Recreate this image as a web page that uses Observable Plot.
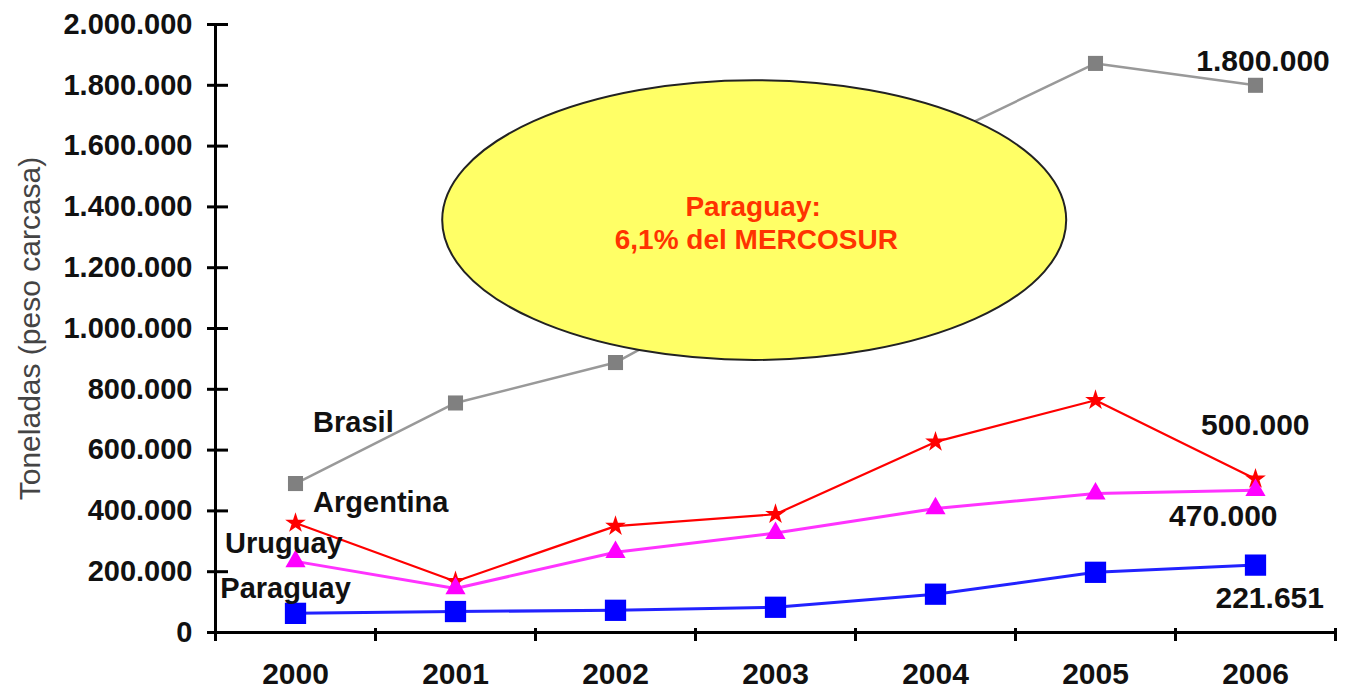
<!DOCTYPE html>
<html>
<head>
<meta charset="utf-8">
<script src="https://cdn.jsdelivr.net/npm/d3@7"></script>
<script src="https://cdn.jsdelivr.net/npm/@observablehq/plot@0.6"></script>
<style>
  html, body { margin: 0; padding: 0; background: #fff; }
</style>
</head>
<body>
<div id="chart"></div>
<script>
// ---- data ----
const years = [2000, 2001, 2002, 2003, 2004, 2005, 2006];
const brasil    = [490000, 755000, 888000, 1175000, 1620000, 1872000, 1800000];
const argentina = [360000, 168000, 350000, 389000, 627000, 764000, 505000];
const uruguay   = [234000, 145000, 264000, 327000, 408000, 457000, 468000];
const paraguay  = [63000, 69000, 73000, 83000, 126000, 198000, 221651];

const yTicks = [0, 200000, 400000, 600000, 800000, 1000000, 1200000, 1400000, 1600000, 1800000, 2000000];
const xBoundaries = [1999.5, 2000.5, 2001.5, 2002.5, 2003.5, 2004.5, 2005.5, 2006.5];

const seriesNames  = ["Brasil", "Argentina", "Uruguay", "Paraguay"];
const seriesLabelX = [2000.11, 2000.11, 1999.56, 1999.53];
const seriesLabelY = [690000, 428000, 293000, 143000];

const valueLabels  = ["1.800.000", "500.000", "470.000", "221.651"];
const valueLabelX  = [2005.63, 2005.66, 2005.46, 2005.75];
const valueLabelY  = [1880000, 681000, 381000, 113000];

const calloutLines = ["Paraguay:", "6,1% del MERCOSUR"];
const calloutX = [2002.86, 2002.88];
const calloutY = [1400000, 1290000];
// callout ellipse in data units: center (year, value), radius (years, value)
const ellipseCenter = [2002.87, 1355000];
const ellipseRadius = [1.95, 460000];

const yTitle = "Toneladas (peso carcasa)";

// ---- build ----
const fmt = d3.formatLocale({decimal: ",", thousands: ".", grouping: [3], currency: ["", ""]}).format(",");

function rows(name, values) {
  return years.map((year, i) => ({series: name, year, value: values[i]}));
}
const dBrasil = rows("Brasil", brasil);
const dArg = rows("Argentina", argentina);
const dUru = rows("Uruguay", uruguay);
const dPar = rows("Paraguay", paraguay);

const seriesLabels = seriesNames.map((t, i) => ({t, x: seriesLabelX[i], y: seriesLabelY[i]}));
const values = valueLabels.map((t, i) => ({t, x: valueLabelX[i], y: valueLabelY[i]}));
const callout = calloutLines.map((t, i) => ({t, x: calloutX[i], y: calloutY[i]}));

function ellipseMark(index, scales) {
  const cx = scales.x(ellipseCenter[0]);
  const cy = scales.y(ellipseCenter[1]);
  const rx = scales.x(ellipseCenter[0] + ellipseRadius[0]) - cx;
  const ry = scales.y(ellipseCenter[1] - ellipseRadius[1]) - cy;
  const g = d3.create("svg:g");
  g.append("ellipse")
    .attr("cx", cx).attr("cy", cy).attr("rx", rx).attr("ry", ry)
    .attr("fill", "#ffff66").attr("stroke", "#222").attr("stroke-width", 2);
  return g.node();
}

const chart = Plot.plot({
  width: 1354,
  height: 691,
  marginLeft: 215,
  marginRight: 19,
  marginTop: 24,
  marginBottom: 59,
  style: {fontFamily: "'Liberation Sans', Arial, sans-serif", fontWeight: "bold", fontSize: "29px", background: "#fff", color: "#000"},
  x: {type: "linear", domain: [1999.5, 2006.5], axis: null},
  y: {type: "linear", domain: [0, 2000000], axis: null},
  marks: [
    // y axis ticks + labels
    Plot.axisY({ticks: yTicks, tickSize: 21, dx: 13, tickPadding: 15, tickFormat: fmt, strokeWidth: 3, fontSize: 29, fill: "#111"}),
    // x axis boundary ticks
    Plot.axisX({ticks: xBoundaries, tickSize: 13, dy: -4, tickFormat: () => "", strokeWidth: 3}),
    // x axis labels
    Plot.axisX({ticks: years, tickSize: 0, tickPadding: 30, tickFormat: d => String(d), fontSize: 30, fill: "#111"}),
    // axis lines
    Plot.ruleX([1999.5], {stroke: "#000", strokeWidth: 3}),
    Plot.ruleY([0], {stroke: "#000", strokeWidth: 3}),
    // y title
    Plot.text([yTitle], {frameAnchor: "left", dx: -185, rotate: -90, textAnchor: "middle", fontSize: 30, fontWeight: "normal", fill: "#444"}),
    // series
    Plot.line(dBrasil, {x: "year", y: "value", stroke: "#999", strokeWidth: 2.5}),
    Plot.dot(dBrasil, {x: "year", y: "value", symbol: "square", r: 8.5, fill: "#808080", stroke: "none"}),
    Plot.line(dArg, {x: "year", y: "value", stroke: "#ff0000", strokeWidth: 2.2}),
    Plot.dot(dArg, {x: "year", y: "value", symbol: "star", r: 6.5, fill: "#ff0000", stroke: "none"}),
    Plot.line(dUru, {x: "year", y: "value", stroke: "#ff33ff", strokeWidth: 3}),
    Plot.dot(dUru, {x: "year", y: "value", symbol: "triangle", r: 7.5, fill: "#ff00ff", stroke: "none"}),
    Plot.line(dPar, {x: "year", y: "value", stroke: "#2222ff", strokeWidth: 3}),
    Plot.dot(dPar, {x: "year", y: "value", symbol: "square", r: 12, fill: "#0000ff", stroke: "none"}),
    // callout
    ellipseMark,
    Plot.text(callout, {x: "x", y: "y", text: "t", fill: "#ff3300", fontSize: 28, fontWeight: "bold"}),
    // labels
    Plot.text(seriesLabels, {x: "x", y: "y", text: "t", textAnchor: "start", fill: "#111", fontSize: 29}),
    Plot.text(values, {x: "x", y: "y", text: "t", textAnchor: "start", fill: "#111", fontSize: 30})
  ]
});

document.getElementById("chart").appendChild(chart);
</script>
</body>
</html>
